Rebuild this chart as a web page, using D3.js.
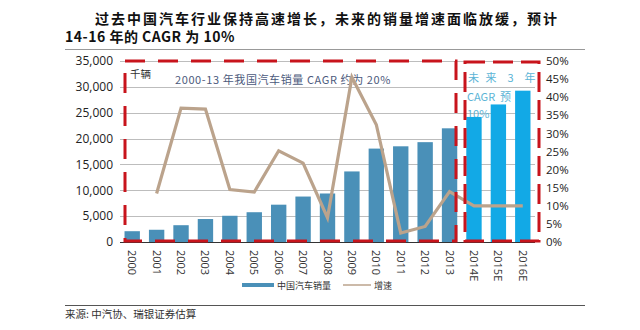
<!DOCTYPE html>
<html>
<head>
<meta charset="utf-8">
<style>
  body { margin: 0; background: #fff; }
  svg { display: block; font-family: "Noto Sans CJK SC", "Open Sans", sans-serif; }
</style>
</head>
<body>
<svg width="640" height="330"></svg>
<script src="https://d3js.org/d3.v7.min.js"></script>
<script>
// data
const years = ["2000","2001","2002","2003","2004","2005","2006","2007","2008","2009","2010","2011","2012","2013","2014E","2015E","2016E"];
const sales = [2087, 2366, 3248, 4443, 5071, 5758, 7216, 8790, 9380, 13645, 18062, 18505, 19306, 21984, 24180, 26600, 29260];
const growth = [null, 13.4, 37.0, 36.7, 14.5, 13.8, 25.2, 21.8, 6.7, 45.5, 32.4, 2.5, 4.3, 13.9, 10, 10, 10];
const leftTicks = [0, 5000, 10000, 15000, 20000, 25000, 30000, 35000];
const rightTicks = [0, 5, 10, 15, 20, 25, 30, 35, 40, 45, 50];

const svg = d3.select("svg");
const pl = 120, pr = 535, pt = 61, pb = 242;

const x = d3.scaleBand().domain(years).range([pl, pr]).paddingInner(0.37).paddingOuter(0.185);
const y = d3.scaleLinear().domain([0, 35000]).range([pb, pt]);
const y2 = d3.scaleLinear().domain([0, 50]).range([pb, pt]);

// title
svg.append("text").attr("x", 95).attr("y", 24)
  .style("font-size", "14px").style("font-weight", "bold").style("letter-spacing", "2px").attr("fill", "#111")
  .text("过去中国汽车行业保持高速增长，未来的销量增速面临放缓，预计");
svg.append("text").attr("x", 65).attr("y", 42)
  .style("font-size", "14px").style("font-weight", "bold").style("letter-spacing", "0.5px").attr("fill", "#111")
  .text("14-16 年的 CAGR 为 10%");
svg.append("line").attr("x1", 65).attr("x2", 585).attr("y1", 49.5).attr("y2", 49.5)
  .attr("stroke", "#999").attr("stroke-width", 1);

// gridlines
svg.append("g").selectAll("line").data(leftTicks.slice(1)).join("line")
  .attr("x1", pl).attr("x2", pr)
  .attr("y1", d => Math.round(y(d)) + 0.5).attr("y2", d => Math.round(y(d)) + 0.5)
  .attr("stroke", "#bdbdbd");

// left axis
const gl = svg.append("g").attr("transform", `translate(${pl - 7},0)`)
  .call(d3.axisLeft(y).tickValues(leftTicks).tickFormat(d3.format(",")).tickSize(0).tickPadding(0));
gl.select(".domain").remove();
gl.selectAll("text").style("font-size", "12px").attr("fill", "#222").attr("font-family", "Open Sans, sans-serif");

// right axis
const gr = svg.append("g").attr("transform", `translate(${pr + 11},0)`)
  .call(d3.axisRight(y2).tickValues(rightTicks).tickFormat(d => d + "%").tickSize(0).tickPadding(0));
gr.select(".domain").remove();
gr.selectAll("text").style("font-size", "11.5px").attr("fill", "#222").attr("font-family", "Open Sans, sans-serif");

// annotations (sit under bars and line)
svg.append("text").attr("x", 130).attr("y", 78).style("font-size", "10.5px").attr("fill", "#333").text("千辆");
svg.append("text").attr("x", 175).attr("y", 84).style("font-size", "11px").style("letter-spacing", "0.6px").attr("fill", "#4c5a7c")
  .text("2000-13 年我国汽车销量 CAGR 约为 20%");
const ann = svg.append("g").style("font-size", "11px").attr("fill", "#5bb4d6");
ann.append("text").attr("x", 468).attr("y", 82).attr("xml:space", "preserve").style("letter-spacing", "2px").text("未 来  3  年");
ann.append("text").attr("x", 467).attr("y", 101).attr("xml:space", "preserve").text("CAGR  预  期");
ann.append("text").attr("x", 467).attr("y", 118).text("10%");

// bars
svg.append("g").selectAll("rect").data(years).join("rect")
  .attr("x", d => x(d))
  .attr("width", x.bandwidth())
  .attr("y", (d, i) => y(sales[i]))
  .attr("height", (d, i) => pb - y(sales[i]))
  .attr("fill", d => d.endsWith("E") ? "#12a9e6" : "#4a90b8");

// baseline
svg.append("line").attr("x1", pl).attr("x2", pr).attr("y1", pb + 0.5).attr("y2", pb + 0.5)
  .attr("stroke", "#333").attr("stroke-width", 1.2);

// growth line
const line = d3.line()
  .defined(d => d[1] != null)
  .x(d => x(d[0]) + x.bandwidth() / 2)
  .y(d => y2(d[1]));
svg.append("path").datum(years.map((d, i) => [d, growth[i]]))
  .attr("d", line).attr("fill", "none")
  .attr("stroke", "#bba38c").attr("stroke-width", 3.2).attr("stroke-linejoin", "miter");

// x labels
svg.append("g").selectAll("text").data(years).join("text")
  .attr("transform", d => `translate(${x(d) + x.bandwidth() / 2 - 4},${pb + 8}) rotate(90)`)
  .attr("text-anchor", "start")
  .style("font-size", "11px").attr("fill", "#333").attr("font-family", "Open Sans, sans-serif")
  .text(d => d);

// red dashed boxes
const red = "#c8141c";
svg.append("rect").attr("x", 125).attr("y", 61).attr("width", 331).attr("height", 180)
  .attr("fill", "none").attr("stroke", red).attr("stroke-width", 3).attr("stroke-dasharray", "20,13");
svg.append("rect").attr("x", 465).attr("y", 62).attr("width", 74).attr("height", 179)
  .attr("fill", "none").attr("stroke", red).attr("stroke-width", 3).attr("stroke-dasharray", "20,8");

// legend
const lg = svg.append("g").style("font-size", "9px").attr("fill", "#333");
lg.append("rect").attr("x", 242).attr("y", 283).attr("width", 32).attr("height", 4).attr("fill", "#4a90b8");
lg.append("text").attr("x", 277).attr("y", 289).text("中国汽车销量");
lg.append("line").attr("x1", 343).attr("x2", 371).attr("y1", 285).attr("y2", 285).attr("stroke", "#bba38c").attr("stroke-width", 1.5);
lg.append("text").attr("x", 374).attr("y", 289).text("增速");

// source
svg.append("line").attr("x1", 65).attr("x2", 585).attr("y1", 305.5).attr("y2", 305.5).attr("stroke", "#555");
svg.append("text").attr("x", 65).attr("y", 318).style("font-size", "10.5px").attr("fill", "#333")
  .text("来源: 中汽协、瑞银证券估算");
</script>
</body>
</html>
